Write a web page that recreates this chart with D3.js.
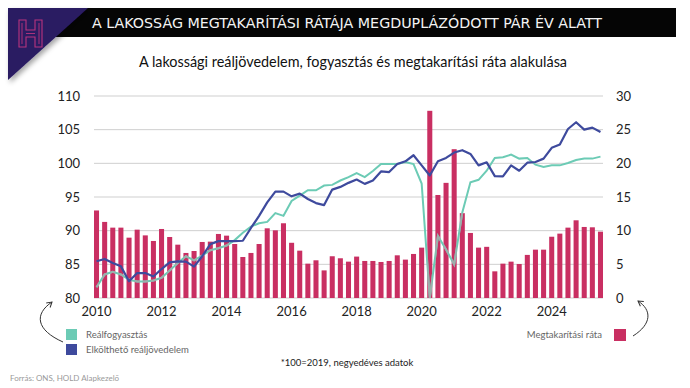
<!DOCTYPE html>
<html>
<head>
<meta charset="utf-8">
<script src="https://cdnjs.cloudflare.com/ajax/libs/d3/7.8.5/d3.min.js"></script>
<style>
    body { margin: 0; background: #fff; }
    text { font-family: Lato, "Open Sans", sans-serif; }
</style>
</head>
<body>
<svg id="chart" width="690" height="388"></svg>
<script>
// quarterly data, 2010 Q1 - 2025 Q3
var years = d3.range(2010, 2026);
var quarters = [];
years.forEach(function (y) {
    ['Q1', 'Q2', 'Q3', 'Q4'].forEach(function (q) { quarters.push(y + q); });
});
quarters = quarters.slice(0, 63);

// savings ratio, % (right axis)
var savingsRatio = [
    13.0, 11.3, 10.45, 10.45, 8.96, 10.15, 9.3, 8.47, 10.25, 9.06,
    7.92, 6.69, 6.98, 8.32, 8.37, 9.51, 9.26, 8.02, 6.09, 6.69,
    8.02, 10.35, 10.05, 11.1, 8.2, 7.03, 5.1, 5.6, 4.1, 6.2,
    5.9, 5.4, 6.15, 5.5, 5.5, 5.35, 5.5, 6.34, 5.7, 6.54,
    7.48, 27.8, 15.3, 17.1, 22.1, 12.6, 9.66, 7.48, 7.6, 3.96,
    5.1, 5.4, 5.05, 6.4, 7.18, 7.18, 9.1, 9.56, 10.45, 11.54,
    10.55, 10.5, 9.85
];

// real consumption, 2019 = 100 (left axis)
var realConsumption = [
    81.6, 83.5, 83.9, 83.5, 82.7, 82.45, 82.45, 82.6, 83.0, 84.1,
    85.2, 86.2, 85.6, 86.3, 87.1, 87.4, 87.8, 88.6, 89.7, 90.6,
    91.1, 91.3, 92.6, 92.2, 94.4, 95.2, 96.0, 96.0, 96.7, 96.8,
    97.45, 97.95, 98.55, 97.95, 98.85, 99.9, 99.9, 99.9, 100.2, 99.9,
    97.0, 80.0, 89.2, 87.2, 85.0, 92.7, 97.2, 97.55, 98.9, 100.8,
    100.9, 101.3, 100.7, 100.8, 99.8, 99.45, 99.7, 99.7, 100.05, 100.5,
    100.7, 100.7, 101.0
];

// real disposable income, 2019 = 100 (left axis)
var realIncome = [
    85.45, 85.8, 85.2, 84.7, 82.5, 83.7, 83.7, 83.2, 84.3, 85.3,
    85.45, 85.4, 84.65, 86.2, 88.0, 88.45, 88.45, 88.45, 88.5, 90.4,
    92.2, 94.2, 95.8, 95.8, 95.1, 95.5, 94.7, 94.1, 93.8, 96.1,
    96.5, 97.1, 97.6, 96.95, 97.45, 98.8, 98.7, 99.9, 100.3, 101.2,
    99.7, 98.2, 100.3, 100.8, 101.6, 101.95, 101.4, 99.7, 100.15, 98.1,
    98.05, 99.7, 98.9, 100.1, 100.2, 100.7, 102.3, 102.8, 105.1, 106.1,
    105.0, 105.3, 104.65
];

var yearTicks = ['2010', '2012', '2014', '2016', '2018', '2020', '2022', '2024'];
var leftTicks = [80, 85, 90, 95, 100, 105, 110];
var rightTicks = [0, 5, 10, 15, 20, 25, 30];

var colTeal = '#6ccbb5',
    colGrey = '#9eaeab',
    colBlue = '#3e4a9d',
    colPink = '#c92f62';

var svg = d3.select('#chart');

// header
var defs = svg.append('defs');
defs.append('filter').attr('id', 'shadow')
    .attr('x', '-20%').attr('y', '-20%').attr('width', '150%').attr('height', '150%')
    .append('feDropShadow')
    .attr('dx', 2).attr('dy', 3).attr('stdDeviation', 2.5)
    .attr('flood-color', '#000').attr('flood-opacity', 0.35);

svg.append('rect')
    .attr('x', 40).attr('y', 8).attr('width', 636).attr('height', 29)
    .attr('fill', '#050505');
svg.append('path')
    .attr('d', 'M8,8 L88,8 L8,80 Z')
    .attr('fill', '#2a1b62')
    .attr('filter', 'url(#shadow)');
// logo
var hPath = 'M19,20 L26,20 L26,30 L35,30 L35,20 L42,20 L42,47 L35,47 L35,37 L26,37 L26,47 L19,47 Z';
svg.append('path').attr('d', hPath)
    .attr('fill', 'none').attr('stroke', '#b8347e').attr('stroke-width', 1.1);
svg.append('path').attr('d', 'M22,23 L22,44 M39,23 L39,44 M26,33.5 L35,33.5')
    .attr('fill', 'none').attr('stroke', '#b8347e').attr('stroke-width', 0.9);

svg.append('text')
    .attr('x', 92).attr('y', 28)
    .attr('fill', '#f4f4f4')
    .attr('font-size', 14.5)
    .attr('textLength', 510)
    .attr('lengthAdjust', 'spacingAndGlyphs')
    .style('font-family', '"Liberation Sans Narrow", "DejaVu Sans Condensed", sans-serif')
    .text('A LAKOSSÁG MEGTAKARÍTÁSI RÁTÁJA MEGDUPLÁZÓDOTT PÁR ÉV ALATT');

svg.append('text')
    .attr('x', 353).attr('y', 67)
    .attr('text-anchor', 'middle')
    .attr('font-size', 14.4)
    .attr('fill', '#111')
    .text('A lakossági reáljövedelem, fogyasztás és megtakarítási ráta alakulása');

// scales
var x = d3.scaleBand()
    .domain(quarters)
    .range([94, 603])
    .paddingInner(0.38)
    .paddingOuter(0);

var yLeft = d3.scaleLinear().domain([80, 110]).range([298, 96]);
var yRight = d3.scaleLinear().domain([0, 30]).range([298, 96]);

function cx(i) { return x(quarters[i]) + x.bandwidth() / 2; }

// gridlines
svg.append('g').selectAll('line')
    .data(leftTicks).enter()
    .append('line')
    .attr('x1', 94).attr('x2', 603)
    .attr('y1', function (d) { return yLeft(d); })
    .attr('y2', function (d) { return yLeft(d); })
    .attr('stroke', '#cfcfcf')
    .attr('stroke-width', 1);

// axes
var leftAxis = svg.append('g')
    .attr('transform', 'translate(94,0)')
    .call(d3.axisLeft(yLeft).tickValues(leftTicks).tickSize(0).tickPadding(14));
var rightAxis = svg.append('g')
    .attr('transform', 'translate(603,0)')
    .call(d3.axisRight(yRight).tickValues(rightTicks).tickSize(0).tickPadding(13));
var bottomAxis = svg.append('g')
    .attr('transform', 'translate(0,298)')
    .call(d3.axisBottom(x)
        .tickValues(yearTicks.map(function (y) { return y + 'Q1'; }))
        .tickFormat(function (d) { return d.slice(0, 4); })
        .tickSize(0).tickPadding(9));

[leftAxis, rightAxis, bottomAxis].forEach(function (a) {
    a.select('.domain').remove();
    a.selectAll('text')
        .attr('font-size', 13)
        .attr('fill', '#222')
        .style('font-family', 'Lato, "Open Sans", sans-serif');
});

// bars
svg.append('g').selectAll('rect')
    .data(savingsRatio).enter()
    .append('rect')
    .attr('x', function (d, i) { return x(quarters[i]); })
    .attr('y', function (d) { return yRight(d); })
    .attr('width', x.bandwidth())
    .attr('height', function (d) { return yRight(0) - yRight(d); })
    .attr('fill', colPink);

// clip of the bar area, the consumption line turns grey there
defs.append('clipPath').attr('id', 'barclip')
    .selectAll('rect')
    .data(savingsRatio).enter()
    .append('rect')
    .attr('x', function (d, i) { return x(quarters[i]); })
    .attr('y', function (d) { return yRight(d); })
    .attr('width', x.bandwidth())
    .attr('height', function (d) { return yRight(0) - yRight(d); });

var line = d3.line()
    .x(function (d, i) { return cx(i); })
    .y(function (d) { return yLeft(d); });

svg.append('path')
    .datum(realConsumption)
    .attr('d', line)
    .attr('fill', 'none')
    .attr('stroke', colTeal)
    .attr('stroke-width', 2);
svg.append('path')
    .datum(realConsumption)
    .attr('d', line)
    .attr('fill', 'none')
    .attr('stroke', colGrey)
    .attr('stroke-width', 2)
    .attr('clip-path', 'url(#barclip)');

svg.append('path')
    .datum(realIncome)
    .attr('d', line)
    .attr('fill', 'none')
    .attr('stroke', colBlue)
    .attr('stroke-width', 2.2)
    .attr('stroke-linejoin', 'round');

// legend
var legend = [
    { label: 'Reálfogyasztás', color: colTeal, y: 329 },
    { label: 'Elkölthető reáljövedelem', color: colBlue, y: 344 }
];
legend.forEach(function (d) {
    svg.append('rect')
        .attr('x', 66).attr('y', d.y)
        .attr('width', 11).attr('height', 11)
        .attr('fill', d.color);
    svg.append('text')
        .attr('x', 86).attr('y', d.y + 8.5)
        .attr('font-size', 9.5)
        .attr('fill', '#666')
        .text(d.label);
});
svg.append('rect')
    .attr('x', 614).attr('y', 329)
    .attr('width', 12).attr('height', 12)
    .attr('fill', colPink);
svg.append('text')
    .attr('x', 602).attr('y', 337.5)
    .attr('text-anchor', 'end')
    .attr('font-size', 9.5)
    .attr('fill', '#666')
    .text('Megtakarítási ráta');

// hand drawn arrows
function arrow(d, tip, angle) {
    svg.append('path')
        .attr('d', d)
        .attr('fill', 'none')
        .attr('stroke', '#333')
        .attr('stroke-width', 1);
    svg.append('path')
        .attr('d', 'M-5,-3 L0,0 L-5,3')
        .attr('transform', 'translate(' + tip[0] + ',' + tip[1] + ') rotate(' + angle + ')')
        .attr('fill', 'none')
        .attr('stroke', '#333')
        .attr('stroke-width', 1);
}
arrow('M63,342 C36,330 34,314 52,302', [52, 302], -40);
arrow('M633,336 C652,324 652,310 638,301', [638, 301], -145);

svg.append('text')
    .attr('x', 347).attr('y', 366)
    .attr('text-anchor', 'middle')
    .attr('font-size', 9.5)
    .attr('fill', '#222')
    .text('*100=2019, negyedéves adatok');

svg.append('text')
    .attr('x', 10).attr('y', 381)
    .attr('font-size', 8)
    .attr('fill', '#9a9a9a')
    .text('Forrás: ONS, HOLD Alapkezelő');
</script>
</body>
</html>
